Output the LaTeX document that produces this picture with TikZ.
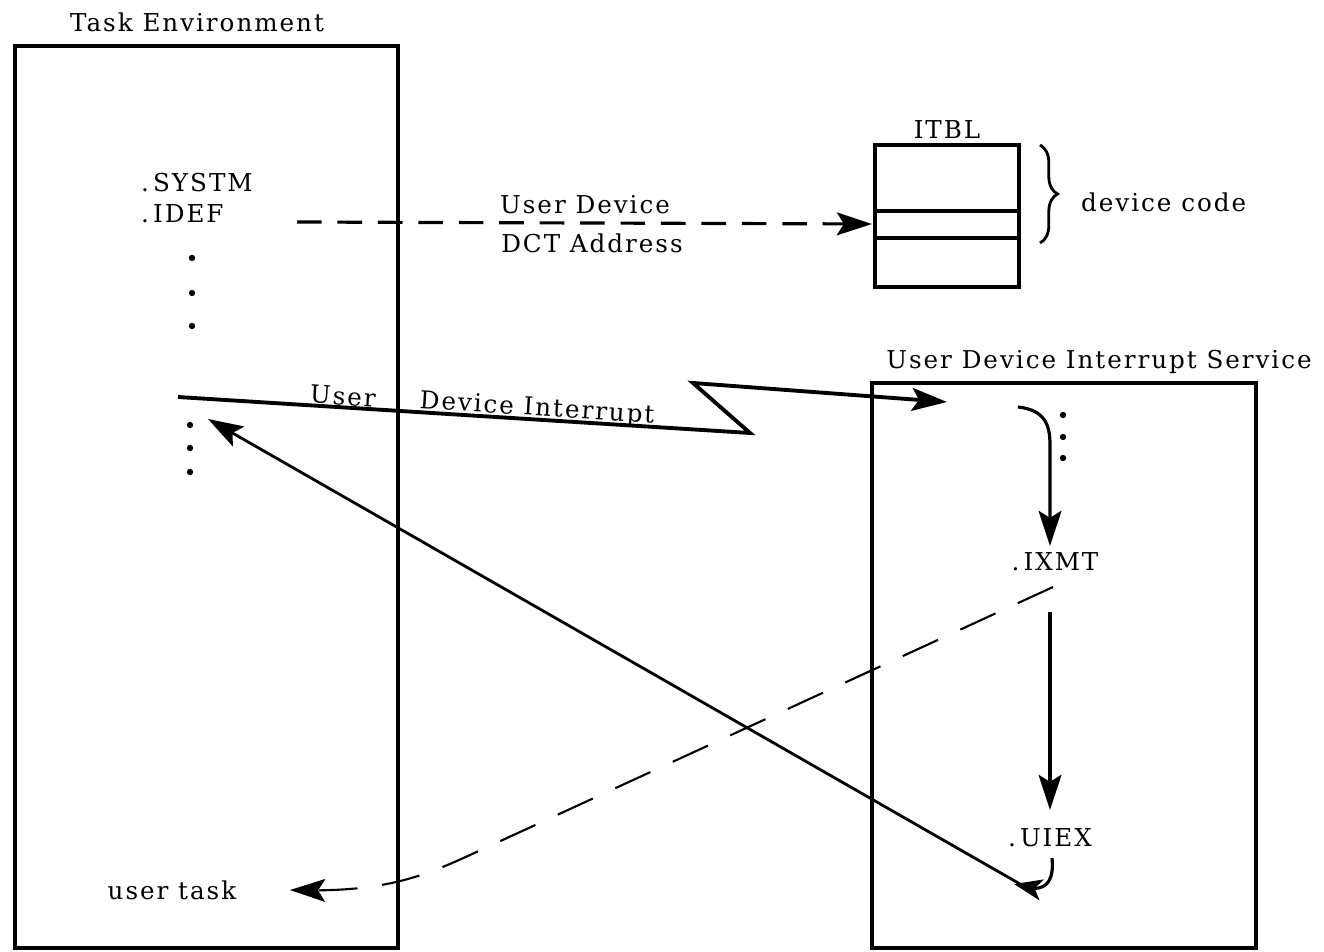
\documentclass[tikz,border=0pt]{standalone}
\usepackage{fontspec}
\setmainfont{DejaVu Serif}[LetterSpace=8]
\usetikzlibrary{arrows.meta,bending,decorations.pathreplacing}
\tikzset{
	box/.style={line width=0.9pt},
	arr/.style={-{Stealth[length=10pt,width=6.5pt,inset=2pt]}},
	hookarr/.style={-{Stealth[length=8pt,width=6pt,inset=2pt,flex]}},
	lbl/.style={font=\fontsize{7}{8}\selectfont, inner sep=1pt},
	dot/.style={fill=black},
}
\begin{document}
\begin{tikzpicture}[x=0.01cm,y=-0.01cm]
	\useasboundingbox (0,0) rectangle (1324,952);
	% boxes
	\draw[box](15,46) rectangle (398,948);
	\draw[box](872,383) rectangle (1256,948);
	\draw[box](875,145) rectangle (1019,287);
	\draw[box](875,211)--(1019,211);
	\draw[box](875,238)--(1019,238);
	\draw[line width=0.8pt, decorate, decoration={brace, amplitude=5pt}](1040,145)--(1040,243);

	% labels
	\node[lbl] (taskenv) at (197,22) {Task Environment};
	\node[lbl] (servtitle) at (1099,362) {User Device Interrupt Service};
	\node[lbl] (itbl) at (947,130) {ITBL};
	\node[lbl] (devcode) at (1077,202)[right] {device code};
	\node[lbl] (systm) at (137,183)[right] {.\,SYSTM};
	\node[lbl] (idef) at (137,214)[right] {.\,IDEF};
	\node[lbl] (dctup) at (585,205) {User Device};
	\node[lbl] (dctlo) at (592,243) {DCT Address};
	\node[lbl, rotate=-3.6] (irqa) at (343,396) {User};
	\node[lbl, rotate=-3.6] (irqb) at (537,409) {Device Interrupt};
	\node[lbl] (ixmt) at (1055,562) {.\,IXMT};
	\node[lbl] (uiex) at (1050,838) {.\,UIEX};
	\node[lbl] (usertask) at (172,890) {user task};

	% dots
	\foreach \y in {258,293,326} \fill[dot] (192,\y) circle (0.9pt);
	\foreach \y in {425,448,472} \fill[dot] (190,\y) circle (0.9pt);
	\foreach \y in {415,437,458} \fill[dot] (1063,\y) circle (0.9pt);

	% connectors
	\coordinate (dctstart) at (297,222);
	\coordinate (dctend) at (872,224);
	\draw[arr, line width=0.9pt, dash pattern=on 7pt off 4.5pt](dctstart)--(dctend);

	\coordinate (irqstart) at (178,397);
	\coordinate (zlo) at (750,433);
	\coordinate (zhi) at (693,383);
	\coordinate (irqend) at (947,402);
	\draw[arr, line width=1.1pt, line join=miter](irqstart)--(zlo)--(zhi)--(irqend);

	\coordinate (flowstart) at (1018,407);
	\coordinate (ixmtin) at (1050,546);
	\draw[arr, line width=0.9pt](flowstart)..controls(1045,410)and(1050,425)..(1050,445)--(ixmtin);

	\coordinate (ixmtout) at (1050,612);
	\coordinate (uiexin) at (1050,810);
	\draw[arr, line width=0.9pt](ixmtout)--(uiexin);

	\coordinate (hookstart) at (1052,858);
	\coordinate (hookend) at (1014,884);
	\draw[hookarr, line width=0.9pt](hookstart)..controls(1055,888)and(1040,894)..(hookend);

	\coordinate (retstart) at (1020,884);
	\coordinate (retend) at (208,419);
	\draw[arr, line width=0.8pt](retstart)--(retend);

	\coordinate (xmtstart) at (1053,587);
	\coordinate (xmtend) at (290,890);
	\draw[arr, line width=0.6pt, dash pattern=on 11pt off 7pt](xmtstart)--(470,855)..controls(420,878)and(380,893)..(xmtend);
\end{tikzpicture}
\end{document}
